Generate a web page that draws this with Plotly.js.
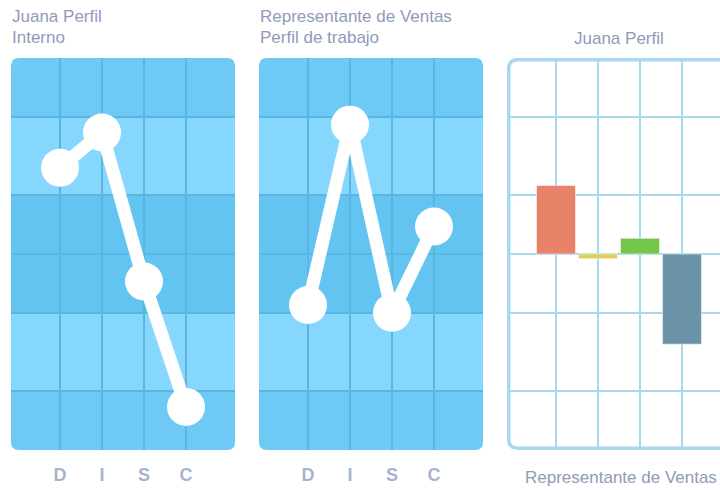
<!DOCTYPE html>
<html><head><meta charset="utf-8">
<script src="https://cdn.plot.ly/plotly-3.0.1.min.js"></script>
<style>html,body{margin:0;padding:0;background:#fff}#chart{width:720px;height:490px}</style>
</head><body><div id="chart"></div>
<script>
// ---- data ----
const categories = ['D', 'I', 'S', 'C'];
const catPos = [1, 2, 3, 4];
const internoValues = [72, 81, 43, 11];      // Juana Perfil Interno
const trabajoValues = [37, 83, 35, 57];      // Representante de Ventas Perfil de trabajo
const diffValues = [17.5, -1.2, 4, -23];     // Juana Perfil vs Representante de Ventas
const diffBase = 50;
const bandLevels = [15, 35, 50, 65, 85];
const barColors = ['#e8836a', '#e4cd55', '#73c54c', '#6b93a7'];
const titles1 = ['Juana Perfil', 'Interno'];
const titles2 = ['Representante de Ventas', 'Perfil de trabajo'];
const title3Top = 'Juana Perfil';
const title3Bottom = 'Representante de Ventas';

// ---- geometry helpers (pixels -> paper) ----
const W = 720, H = 490;
function P(x, y) { return (x / W).toFixed(5) + ',' + (1 - y / H).toFixed(5); }
function rr(x0, y0, x1, y1, r) {
  return 'M' + P(x0 + r, y0) + ' L' + P(x1 - r, y0) + ' Q' + P(x1, y0) + ' ' + P(x1, y0 + r) +
    ' L' + P(x1, y1 - r) + ' Q' + P(x1, y1) + ' ' + P(x1 - r, y1) +
    ' L' + P(x0 + r, y1) + ' Q' + P(x0, y1) + ' ' + P(x0, y1 - r) +
    ' L' + P(x0, y0 + r) + ' Q' + P(x0, y0) + ' ' + P(x0 + r, y0) + ' Z';
}

const yTop = 58, yBot = 450;
const yDom = [1 - yBot / H, 1 - yTop / H];
const p1 = [11, 235], p2 = [259, 483], p3 = [507, 731];
const unit = 42;

const darkBand = '#6ecaf4', lightBand = '#86d7fe', midBand = '#63c4f2';
const gridBlue = '#5bb6df', lightGrid = '#a8d8ec';
const labelColor = '#8f9bb8';
const font = 'Liberation Sans, Arial, sans-serif';

function lineTrace(vals, xa, ya) {
  return {
    x: catPos, y: vals, xaxis: xa, yaxis: ya, type: 'scatter', mode: 'lines+markers',
    line: { color: '#ffffff', width: 13 },
    marker: { color: '#ffffff', size: 38 },
    cliponaxis: false, hoverinfo: 'skip'
  };
}
const data = [
  lineTrace(internoValues, 'x', 'y'),
  lineTrace(trabajoValues, 'x2', 'y2'),
  {
    x: catPos, y: diffValues, base: diffBase, xaxis: 'x3', yaxis: 'y3', type: 'bar',
    width: 0.93, marker: { color: barColors, line: { color: 'rgba(255,255,255,0.55)', width: 1 } },
    hoverinfo: 'skip'
  }
];

function xAxis(p, range, labels, grid) {
  return {
    domain: [p[0] / W, Math.min(1, p[1] / W)], range: range,
    tickvals: catPos, ticktext: categories, showticklabels: labels,
    tickfont: { family: font, size: 18, color: '#a6b3cf', weight: 'bold' },
    ticks: '', ticklabelstandoff: 12,
    showgrid: true, gridcolor: grid, gridwidth: 2, zeroline: false, showline: false, fixedrange: true
  };
}
function yAxis(grid) {
  return {
    domain: yDom, range: [0, 100], tickvals: bandLevels, showticklabels: false, ticks: '',
    showgrid: true, gridcolor: grid, gridwidth: 2, zeroline: false, showline: false, fixedrange: true
  };
}

const shapes = [];
[[p1, 'x', 'y'], [p2, 'x2', 'y2']].forEach(function (d) {
  const p = d[0];
  shapes.push({ type: 'path', xref: 'paper', yref: 'paper', path: rr(p[0], yTop, p[1], yBot, 8),
    fillcolor: darkBand, line: { width: 0 }, layer: 'below' });
  const xd = d[1] + ' domain';
  shapes.push({ type: 'rect', xref: xd, yref: d[2], x0: 0, x1: 1, y0: bandLevels[3], y1: bandLevels[4],
    fillcolor: lightBand, line: { width: 0 }, layer: 'below' });
  shapes.push({ type: 'rect', xref: xd, yref: d[2], x0: 0, x1: 1, y0: bandLevels[1], y1: bandLevels[3],
    fillcolor: midBand, line: { width: 0 }, layer: 'below' });
  shapes.push({ type: 'rect', xref: xd, yref: d[2], x0: 0, x1: 1, y0: bandLevels[0], y1: bandLevels[1],
    fillcolor: lightBand, line: { width: 0 }, layer: 'below' });
});
shapes.push({ type: 'path', xref: 'paper', yref: 'paper', path: rr(p3[0] + 1.75, yTop + 1.75, p3[1] - 1.75, yBot - 1.75, 9),
  fillcolor: 'rgba(0,0,0,0)', line: { color: lightGrid, width: 3.5 }, layer: 'above' });

function ann(text, x, y, xanchor) {
  return { text: text, x: x / W, y: 1 - y / H, xref: 'paper', yref: 'paper', xanchor: xanchor, yanchor: 'middle',
    showarrow: false, font: { family: font, size: 17, color: labelColor } };
}
const annotations = [
  ann(titles1[0], 10, 17, 'left'), ann(titles1[1], 10, 37, 'left'),
  ann(titles2[0], 258, 17, 'left'), ann(titles2[1], 258, 37, 'left'),
  ann(title3Top, 619, 38, 'center'), ann(title3Bottom, 621, 477, 'center')
];

const layout = {
  width: W, height: H, margin: { l: 0, r: 0, t: 0, b: 0 },
  paper_bgcolor: '#ffffff', plot_bgcolor: 'rgba(0,0,0,0)', showlegend: false,
  xaxis: xAxis(p1, [1 - 49 / unit, 1 + (224 - 49) / unit], true, gridBlue),
  yaxis: yAxis(gridBlue),
  xaxis2: xAxis(p2, [1 - 49 / unit, 1 + (224 - 49) / unit], true, gridBlue),
  yaxis2: yAxis(gridBlue),
  xaxis3: xAxis(p3, [1 - 49 / unit, 1 + (W - p3[0] - 49) / unit], false, lightGrid),
  yaxis3: yAxis(lightGrid),
  shapes: shapes, annotations: annotations
};
Plotly.newPlot('chart', data, layout, { displayModeBar: false, staticPlot: true });
</script></body></html>
